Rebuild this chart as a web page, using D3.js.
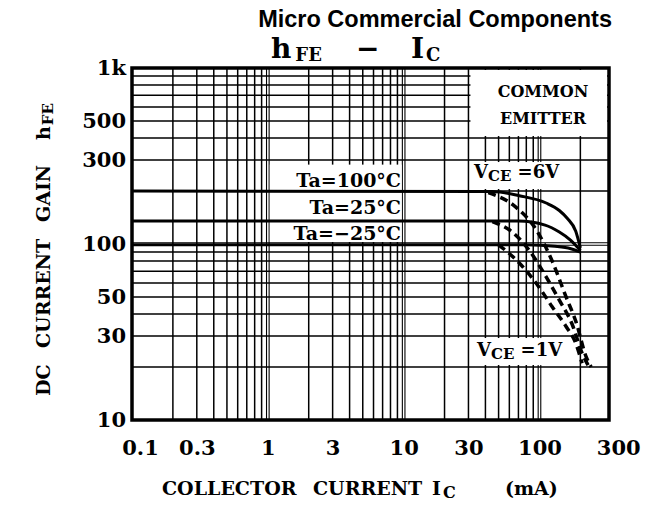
<!DOCTYPE html>
<meta charset="utf-8">
<style>
body { margin: 0; background: #fff; }
svg text { font-family: "DejaVu Serif", serif; font-weight: bold; fill: #000; }
.brand { font-family: "Liberation Sans", Arial, sans-serif !important; }
.grid line { stroke: #000; stroke-width: 1.5px; }
.curve { fill: none; stroke: #000; stroke-width: 3px; }
.curve.dash { stroke-dasharray: 8,5; stroke-width: 3.5px; }
.blank { fill: #fff; }
.frame { fill: none; stroke: #000; stroke-width: 3.5px; }
</style>
<svg width="650" height="514"></svg>
<script src="https://cdn.jsdelivr.net/npm/d3@7/dist/d3.min.js"></script>
<script>
// tick labels
var xTicks = [0.1, 0.3, 1, 3, 10, 30, 100, 300],
    xTickLabels = ["0.1", "0.3", "1", "3", "10", "30", "100", "300"],
    yTicks = [10, 30, 50, 100, 300, 500, 1000],
    yTickLabels = ["10", "30", "50", "100", "300", "500", "1k"];

// hFE vs Ic [mA, hFE], VCE = 6V (solid)
var vce6_100 = [[0.1,200],[45,199],[71,188],[112,171],[140,155],[160,140],[185,118],[200,95]],
    vce6_25  = [[0.1,135],[70,135],[110,128],[140,117],[170,105],[200,92]],
    vce6_m25 = [[0.1,99],[80,99],[130,97],[170,94],[200,90]];

// VCE = 1V (dashed)
var vce1_100 = [[42,196],[67,162],[95,120],[124,80],[157,50],[186,36],[220,23],[240,20]],
    vce1_25  = [[45,134],[63,117],[84,92],[112,65],[140,48],[174,35],[206,24],[232,20]],
    vce1_m25 = [[50,99],[71,78],[99,57],[124,44],[157,34],[186,27],[206,21]];

var temps = ["Ta=100\u00b0C", "Ta=25\u00b0C", "Ta=\u221225\u00b0C"];

var width = 650, height = 514;
var svg = d3.select("svg");

var x = d3.scaleLog().domain([0.1, 325]).range([132, 609]);
var y = d3.scaleLog().domain([10, 1000]).range([420, 68]);

// grid values 2..9 of each decade, decades drawn double
var xGrid = [], yGrid = [];
[0.1, 1, 10, 100].forEach(function(d) {
  for (var m = 1; m < 10; m++) {
    var v = +(d * m).toPrecision(3);
    if (v > 0.1 && v <= 200) xGrid.push(v);
  }
});
[10, 100].forEach(function(d) {
  for (var m = 1; m < 10; m++) {
    var v = d * m;
    if (v > 10 && v < 1000) yGrid.push(v);
  }
});
function isDecade(v) { return Math.abs(Math.log10(v) - Math.round(Math.log10(v))) < 1e-6; }

var grid = svg.append("g").attr("class", "grid");
xGrid.forEach(function(v) {
  var offs = isDecade(v) ? [-1.3, 1.3] : [0];
  offs.forEach(function(o) {
    grid.append("line")
      .attr("x1", x(v) + o).attr("x2", x(v) + o)
      .attr("y1", y(1000)).attr("y2", y(10))
      .style("stroke-width", isDecade(v) ? "1.1px" : null);
  });
});
yGrid.forEach(function(v) {
  var offs = isDecade(v) ? [-1.3, 1.3] : [0];
  offs.forEach(function(o) {
    grid.append("line")
      .attr("x1", x(0.1)).attr("x2", x.range()[1])
      .attr("y1", y(v) + o).attr("y2", y(v) + o)
      .style("stroke-width", isDecade(v) ? "1.1px" : null);
  });
});

// blank label areas [x0, x1, y0, y1] in data units
var blanks = [[30, 325, 400, 1000], [1, 10, 100, 290], [30, 200, 200, 300], [30, 200, 20, 30]];
svg.append("g").selectAll("rect").data(blanks).enter().append("rect")
  .attr("class", "blank")
  .attr("x", function(d) { return x(d[0]) + 2; })
  .attr("width", function(d) { return x(d[1]) - x(d[0]) - 4; })
  .attr("y", function(d) { return y(d[3]) + 2; })
  .attr("height", function(d) { return y(d[2]) - y(d[3]) - 4; });

var line = d3.line()
  .x(function(d) { return x(d[0]); })
  .y(function(d) { return y(d[1]); })
  .curve(d3.curveMonotoneX);

[vce6_100, vce6_25, vce6_m25].forEach(function(s) {
  svg.append("path").attr("class", "curve").attr("d", line(s));
});
[vce1_100, vce1_25, vce1_m25].forEach(function(s) {
  svg.append("path").attr("class", "curve dash").attr("d", line(s));
});

svg.append("rect").attr("class", "frame")
  .attr("x", x(0.1)).attr("y", y(1000))
  .attr("width", x.range()[1] - x(0.1)).attr("height", y(10) - y(1000));

// axes (labels only)
var xAxis = svg.append("g").attr("transform", "translate(0," + y(10) + ")")
  .call(d3.axisBottom(x).tickValues(xTicks).tickSize(0).tickPadding(20)
    .tickFormat(function(d, i) { return xTickLabels[i]; }));
xAxis.select(".domain").remove();
xAxis.selectAll("text").style("font-size", "21px")
  .attr("dx", function(d, i) { return i === 0 ? 8 : (i === xTicks.length - 1 ? 14 : 0); });

var yAxis = svg.append("g").attr("transform", "translate(" + x(0.1) + ",0)")
  .call(d3.axisLeft(y).tickValues(yTicks).tickSize(0).tickPadding(6)
    .tickFormat(function(d, i) { return yTickLabels[i]; }));
yAxis.select(".domain").remove();
yAxis.selectAll("text").style("font-size", "21px");

// header
svg.append("text").attr("class", "brand")
  .attr("x", 612).attr("y", 27).attr("text-anchor", "end")
  .style("font-size", "23.5px").text("Micro Commercial Components");

var title = svg.append("text").attr("x", 271).attr("y", 58).style("font-size", "28px");
title.append("tspan").text("h");
title.append("tspan").attr("dx", 4).attr("dy", 3).style("font-size", "18px").text("FE");
title.append("tspan").attr("x", 356).attr("dy", -3).text("\u2212");
title.append("tspan").attr("x", 411).text("I");
title.append("tspan").attr("dx", 2).attr("dy", 3).style("font-size", "18px").text("C");

// axis titles
var xt = svg.append("text").attr("y", 495).style("font-size", "19px");
xt.append("tspan").attr("x", 162).text("COLLECTOR");
xt.append("tspan").attr("x", 313).text("CURRENT");
xt.append("tspan").attr("x", 432).text("I");
xt.append("tspan").attr("dx", 2).attr("dy", 3).style("font-size", "16px").text("C");
xt.append("tspan").attr("x", 505).attr("dy", -3).text("(mA)");

var yt = svg.append("text").attr("transform", "translate(50,396) rotate(-90)").style("font-size", "19px");
yt.append("tspan").attr("x", 0).text("DC");
yt.append("tspan").attr("x", 48).text("CURRENT");
yt.append("tspan").attr("x", 174).text("GAIN");
yt.append("tspan").attr("x", 256).text("h");
yt.append("tspan").attr("dx", 1).attr("dy", 3).style("font-size", "15px").text("FE");

// in-plot labels
var ce = svg.append("text").attr("text-anchor", "middle").style("font-size", "16px");
ce.append("tspan").attr("x", 543).attr("y", 97).text("COMMON");
ce.append("tspan").attr("x", 543).attr("y", 124).text("EMITTER");

function vce(xp, yp, v) {
  var t = svg.append("text").attr("x", xp).attr("y", yp).style("font-size", "18px");
  t.append("tspan").text("V");
  t.append("tspan").attr("dy", 3).style("font-size", "15px").text("CE");
  t.append("tspan").attr("dy", -3).text(" =" + v);
}
vce(474, 178, "6V");
vce(477, 356, "1V");

var taY = [187, 214, 240];
temps.forEach(function(t, i) {
  svg.append("text").attr("x", 401).attr("y", taY[i]).attr("text-anchor", "end")
    .style("font-size", "19px").text(t);
});
</script>
